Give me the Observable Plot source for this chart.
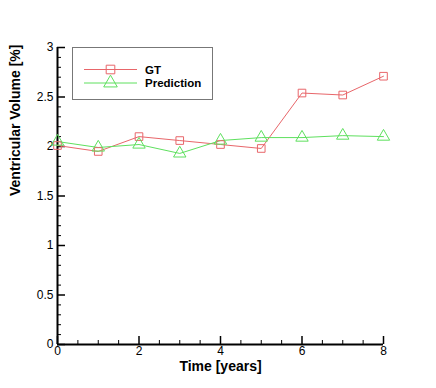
<!DOCTYPE html>
<html><head><meta charset="utf-8">
<script src="https://cdn.jsdelivr.net/npm/d3@7"></script>
<script src="https://cdn.jsdelivr.net/npm/@observablehq/plot@0.6"></script>
<style>
body{margin:0;background:#fff;font-family:"Liberation Sans",Arial,sans-serif;}
#wrap{position:relative;width:436px;height:388px;}
#legend{position:absolute;left:72px;top:47px;width:141px;height:53px;border:1px solid #777;background:#fff;box-sizing:border-box;}
</style>
</head><body>
<div id="wrap"><div id="chart"></div>
<div id="legend"></div></div>
<script>
const years = [0,1,2,3,4,5,6,7,8];
const gtValues = [2.01,1.95,2.10,2.06,2.02,1.98,2.54,2.52,2.71];
const predValues = [2.05,1.99,2.02,1.93,2.06,2.09,2.09,2.11,2.10];
const seriesNames = ["GT","Prediction"];
const seriesColors = ["#e8666a","#5ee05e"];
const xMajor = [0,2,4,6,8];
const xMinor = d3.range(0,8.01,0.5).filter(v=>v%2!==0);
const yMajor = [0,0.5,1,1.5,2,2.5,3];
const yMinor = d3.range(0,3.001,0.1).map(v=>+v.toFixed(1)).filter(v=>Math.abs(v*2-Math.round(v*2))>1e-6);

const gt = years.map((t,i)=>({t, v: gtValues[i]}));
const pred = years.map((t,i)=>({t, v: predValues[i]}));

const chart = Plot.plot({
  width: 436, height: 388,
  marginLeft: 57, marginRight: 53, marginTop: 47, marginBottom: 44,
  style: {fontFamily: "Liberation Sans, Arial, sans-serif", fontSize: "12px", color: "#000", background: "#fff"},
  x: {domain: [0,8]},
  y: {domain: [0,3]},
  marks: [
    Plot.axisX(xMajor, {tickSize: -8, strokeWidth: 1.5, tickFormat: () => "", label: null}),
    Plot.axisX(xMinor, {tickSize: -4, strokeWidth: 1, tickFormat: () => "", label: null}),
    Plot.axisX(xMajor, {tickSize: 0, tickPadding: 2, fontSize: 12, label: null, tickFormat: d => String(d)}),
    Plot.axisY(yMajor, {tickSize: -8, strokeWidth: 1.5, tickFormat: () => "", label: null}),
    Plot.axisY(yMinor, {tickSize: -4, strokeWidth: 1, tickFormat: () => "", label: null}),
    Plot.axisY(yMajor, {tickSize: 0, tickPadding: 4, fontSize: 12, label: null, tickFormat: d => String(d)}),
    Plot.ruleY([0], {stroke: "#000", strokeWidth: 2}),
    Plot.ruleX([0], {stroke: "#000", strokeWidth: 2}),
    Plot.line(gt, {x: "t", y: "v", stroke: seriesColors[0], strokeWidth: 1}),
    Plot.line(pred, {x: "t", y: "v", stroke: seriesColors[1], strokeWidth: 1}),
    Plot.dot(gt, {x: "t", y: "v", symbol: "square", r: 4.3, stroke: seriesColors[0], fill: "none", strokeWidth: 1}),
    Plot.dot(pred, {x: "t", y: "v", symbol: "triangle", r: 4.6, stroke: seriesColors[1], fill: "none", strokeWidth: 1}),
    Plot.text(["Time [years]"], {frameAnchor: "bottom", dy: 26, fontWeight: "bold", fontSize: 14}),
    Plot.text(["Ventricular Volume [%]"], {frameAnchor: "left", dx: -42, rotate: -90, fontWeight: "bold", fontSize: 14})
  ]
});
document.getElementById("chart").appendChild(chart);

// legend
const lg = d3.select("#legend").append("svg").attr("width",141).attr("height",53)
  .style("font-family","Liberation Sans, Arial, sans-serif");
const sym = [d3.symbolSquare, d3.symbolTriangle];
seriesNames.forEach((name,i)=>{
  const y = 21.5 + i*13.5;
  lg.append("line").attr("x1",11).attr("x2",64).attr("y1",y).attr("y2",y).attr("stroke",seriesColors[i]);
  lg.append("path").attr("d", d3.symbol(sym[i], i===0?74:80)()).attr("transform",`translate(37.5,${y})`)
    .attr("fill","none").attr("stroke",seriesColors[i]);
  lg.append("text").attr("x",72).attr("y",y+4).attr("font-weight","bold").attr("font-size",11.5).text(name);
});
</script>
</body></html>
